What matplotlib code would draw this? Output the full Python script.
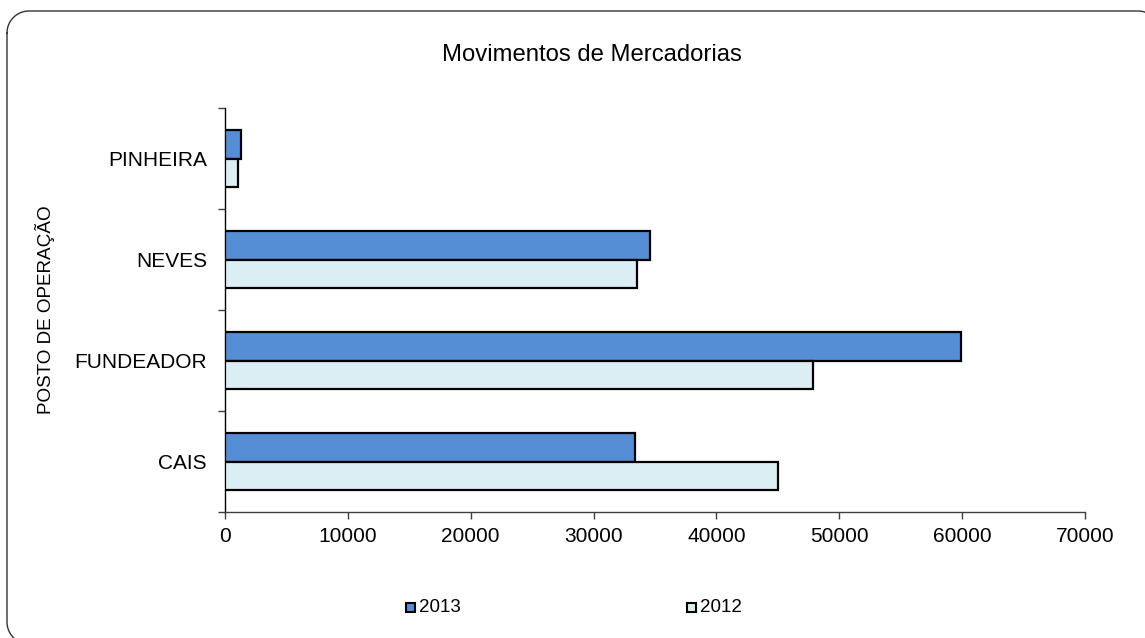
import matplotlib
matplotlib.use("Agg")
import matplotlib.pyplot as plt
from matplotlib.patches import Rectangle
from matplotlib.lines import Line2D
import numpy as np

plt.rcParams['font.family'] = ['Liberation Sans', 'DejaVu Sans']

categories = ["CAIS", "FUNDEADOR", "NEVES", "PINHEIRA"]
values_2013 = [33400, 59900, 34600, 1280]
values_2012 = [45000, 47900, 33550, 1030]
series_labels = ["2013", "2012"]
x_ticks = [0, 10000, 20000, 30000, 40000, 50000, 60000, 70000]

c2013 = "#558ED5"
c2012 = "#DBEEF4"

W, H = 1145, 638
fig = plt.figure(figsize=(W/100, H/100), dpi=100)
ax = fig.add_axes([225/W, 1-512/H, 860/W, 404/H])

y = np.arange(len(categories))
h = 0.28
ax.barh(y + h/2, values_2013, height=h, color=c2013, edgecolor="black", linewidth=1.6, zorder=3)
ax.barh(y - h/2, values_2012, height=h, color=c2012, edgecolor="black", linewidth=1.6, zorder=3)

ax.set_xlim(0, 70000)
ax.set_ylim(-0.5, len(categories) - 0.5)
ax.set_xticks(x_ticks)
ax.set_xticklabels([str(v) for v in x_ticks], fontsize=15)
ax.set_yticks(np.arange(-0.5, len(categories), 1.0))
ax.set_yticklabels([])
ax.set_yticks(y, minor=True)
ax.set_yticklabels(categories, minor=True, fontsize=15)
ax.tick_params(axis='y', which='minor', length=0, pad=13)
ax.tick_params(axis='y', which='major', length=5, width=1, color="#404040", direction='out')
ax.tick_params(axis='x', length=5, width=1, color="#404040", direction='out', pad=6)
for s in ["top", "right"]:
    ax.spines[s].set_visible(False)
ax.spines["left"].set_color("black")
ax.spines["left"].set_linewidth(1.0)
ax.spines["bottom"].set_color("#404040")
ax.spines["bottom"].set_linewidth(1.0)

fig.text(592/W, 1-55/H, "Movimentos de Mercadorias", ha="center", va="center", fontsize=17.2)
fig.text(45/W, 1-310/H, "POSTO DE OPERAÇÃO", rotation=90, ha="center", va="center", fontsize=13.6)

# legend
for lx, lab, col in [(406, series_labels[0], c2013), (687, series_labels[1], c2012)]:
    fig.patches.append(Rectangle((lx/W, 1-612/H), 9/W, 9/H, transform=fig.transFigure,
                                 facecolor=col, edgecolor="black", linewidth=1.5))
    fig.text((lx+13)/W, 1-607/H, lab, ha="left", va="center", fontsize=13.5)

# rounded border drawn as a path in pixel units (image coords: y down)
left, top, right, bottom, r = 7.0, 11.0, 1160.0, 644.0, 22.0
def arc(cx, cy, a0, a1, n=30):
    t = np.radians(np.linspace(a0, a1, n))
    return cx + r*np.cos(t), cy - r*np.sin(t)
xs, ys = [], []
for (cx, cy, a0, a1) in [(left+r, top+r, 180, 90), (right-r, top+r, 90, 0),
                         (right-r, bottom-r, 0, -90), (left+r, bottom-r, 270, 180)]:
    ax_, ay_ = arc(cx, cy, a0, a1)
    xs.extend(ax_); ys.extend(ay_)
xs.append(xs[0]); ys.append(ys[0])
xs = np.array(xs)/W
ys = 1 - np.array(ys)/H
fig.add_artist(Line2D(xs, ys, transform=fig.transFigure, color="#333333", linewidth=1.0))

fig.savefig("out.png", dpi=100)
